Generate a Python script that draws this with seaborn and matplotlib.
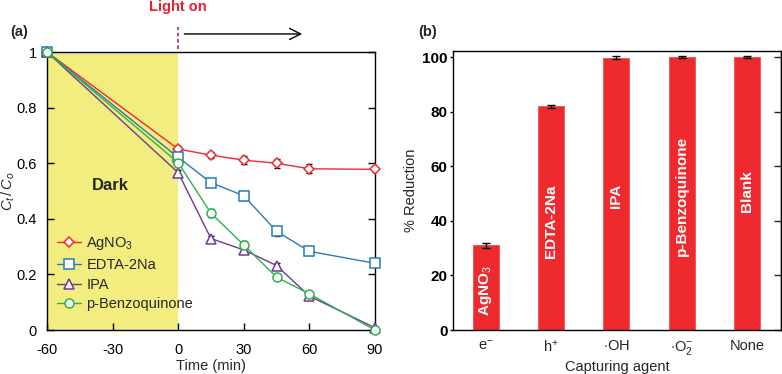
import numpy as np
import pandas as pd
import matplotlib
matplotlib.use("Agg")
import matplotlib.pyplot as plt
import seaborn as sns

# ---- data (a) ----
time = [-60, 0, 15, 30, 45, 60, 90]
agno3 = [1.0, 0.651, 0.629, 0.611, 0.600, 0.580, 0.578]
agno3_err = [0.0, 0.010, 0.012, 0.014, 0.016, 0.016, 0.008]
edta = [1.0, 0.621, 0.530, 0.483, 0.355, 0.283, 0.240]
edta_err = [0.0, 0.012, 0.010, 0.014, 0.016, 0.012, 0.008]
ipa = [1.0, 0.566, 0.329, 0.288, 0.232, 0.122, 0.008]
ipa_err = [0.0, 0.010, 0.010, 0.010, 0.008, 0.008, 0.004]
bq = [1.0, 0.602, 0.420, 0.306, 0.190, 0.130, 0.0]
bq_err = [0.0, 0.012, 0.014, 0.014, 0.008, 0.008, 0.004]
series_names = ["AgNO$_3$", "EDTA-2Na", "IPA", "p-Benzoquinone"]

# ---- data (b) ----
agents = ["e$^{-}$", "h$^{+}$", "$\\cdot$OH", "$\\cdot$O$_2^{-}$", "None"]
reduction = [31.0, 82.0, 99.8, 100.0, 100.0]
reduction_err = [1.0, 0.6, 0.6, 0.5, 0.3]
bar_labels = ["AgNO$_3$", "EDTA-2Na", "IPA", "p-Benzoquinone", "Blank"]
bar_label_y = [14.5, 40.0, 49.0, 49.0, 51.0]

sns.set_style("white")
plt.rcParams["font.family"] = ["Liberation Sans", "DejaVu Sans"]
plt.rcParams["mathtext.fontset"] = "custom"
plt.rcParams["mathtext.rm"] = "Liberation Sans"
plt.rcParams["mathtext.it"] = "Liberation Sans:italic"
plt.rcParams["mathtext.bf"] = "Liberation Sans:bold"
plt.rcParams["axes.unicode_minus"] = False

fig = plt.figure(figsize=(7.82, 3.74), dpi=100)
ax1 = fig.add_axes([0.0601, 0.1176, 0.4194, 0.7433])
ax2 = fig.add_axes([0.5793, 0.1176, 0.4194, 0.7460])

# ---------- panel (a) ----------
ax1.axvspan(-60, 0, color="#F3ED80", zorder=0, lw=0)
colors = ["#EE2A2F", "#2A7AB5", "#6E3A96", "#2DB34A"]
markers = ["D", "s", "^", "o"]
msizes = [5.5, 6.5, 7, 6.5]
data_list = [agno3, edta, ipa, bq]
err_list = [agno3_err, edta_err, ipa_err, bq_err]
for name, vals, errs, c, m, ms in zip(series_names, data_list, err_list, colors, markers, msizes):
    ax1.errorbar(time, vals, yerr=errs, fmt="none", ecolor="black", elinewidth=1.0,
                 capsize=2.5, capthick=1.0, zorder=2)
    sns.lineplot(x=time, y=vals, ax=ax1, color=c, marker=m, markersize=ms,
                 markerfacecolor="white", markeredgecolor=c, markeredgewidth=1.1,
                 linewidth=1.0, label=name, zorder=3, clip_on=False)

ax1.set_xlim(-60, 90)
ax1.set_ylim(0, 1)
ax1.set_xticks([-60, -30, 0, 30, 60, 90])
ax1.set_yticks([0, 0.2, 0.4, 0.6, 0.8, 1])
ax1.set_yticklabels(["0", "0.2", "0.4", "0.6", "0.8", "1"])
ax1.tick_params(axis="both", direction="in", length=5, width=1, labelsize=10.5,
                left=True, right=True, bottom=True, top=False, colors="black")
ax1.tick_params(axis="x", pad=9)
ax1.tick_params(axis="y", pad=7.5)
ax1.set_xlabel("Time (min)", fontsize=10.5, labelpad=2)
ax1.set_ylabel("$C_t\\,/\\,C_o$", fontsize=10.5)
ax1.yaxis.set_label_coords(-0.092, 0.5)
for s in ax1.spines.values():
    s.set_color("black")
    s.set_linewidth(1.0)

leg = ax1.legend(loc="lower left", bbox_to_anchor=(0.0, 0.03), frameon=False, fontsize=10.5,
                 handlelength=1.6, handletextpad=0.4, labelspacing=0.4, borderaxespad=0.3)

ax1.text(-31, 0.52, "Dark", fontsize=12, fontweight="bold", ha="center", va="center")
ax1.text(0, 1.162, "Light on", fontsize=10.5, fontweight="bold", color="#EE1C2E",
         ha="center", va="center", clip_on=False)
ax1.plot([0, 0], [1.012, 1.09], ls=(0, (2, 1.5)), color="#A03A7A", lw=1.3, clip_on=False)
ax1.annotate("", xy=(58, 1.065), xytext=(1.5, 1.065), xycoords="data",
             arrowprops=dict(arrowstyle="->", color="black", lw=1.0, mutation_scale=20),
             annotation_clip=False)
fig.text(10 / 782, 1 - 32 / 374, "(a)", fontsize=10.5, fontweight="bold", va="center", ha="left")

# ---------- panel (b) ----------
bar_df = pd.DataFrame({"agent": agents, "reduction": reduction})
sns.barplot(data=bar_df, x="agent", y="reduction", color="#EE2A2F", saturation=1,
            width=0.4, ax=ax2, errorbar=None, edgecolor="#F05050", linewidth=0.6)
ax2.errorbar(np.arange(len(agents)), reduction, yerr=reduction_err, fmt="none",
             ecolor="black", elinewidth=1.0, capsize=3, capthick=1.0, zorder=3)
for i, (lab, yy) in enumerate(zip(bar_labels, bar_label_y)):
    ax2.text(i, yy, lab, rotation=90, color="white", fontweight="bold", fontsize=11,
             ha="center", va="center", zorder=4)

ax2.set_xlim(-0.5, 4.52)
ax2.set_ylim(0, 102.2)
ax2.set_yticks([0, 20, 40, 60, 80, 100])
ax2.tick_params(axis="y", which="both", left=True, right=False, direction="out", length=2,
                width=1, labelsize=11, pad=2, colors="black")
for lbl in ax2.get_yticklabels():
    lbl.set_fontweight("bold")
ax2.tick_params(axis="x", bottom=False, labelsize=10.5, pad=3)
ax2_r = ax2.secondary_yaxis("right")
ax2_r.set_yticks([0, 20, 40, 60, 80, 100])
ax2_r.tick_params(direction="in", length=5, width=1, labelright=False)
ax2.set_xlabel("Capturing agent", fontsize=10.5, labelpad=2)
ax2.set_ylabel("% Reduction", fontsize=10.5, labelpad=3)
for s in ax2.spines.values():
    s.set_color("black")
    s.set_linewidth(1.0)
ax2_r.spines["right"].set_linewidth(1.0)
fig.text(418 / 782, 1 - 32 / 374, "(b)", fontsize=10.5, fontweight="bold", va="center", ha="left")

fig.savefig("out.png", dpi=100, facecolor="white")
